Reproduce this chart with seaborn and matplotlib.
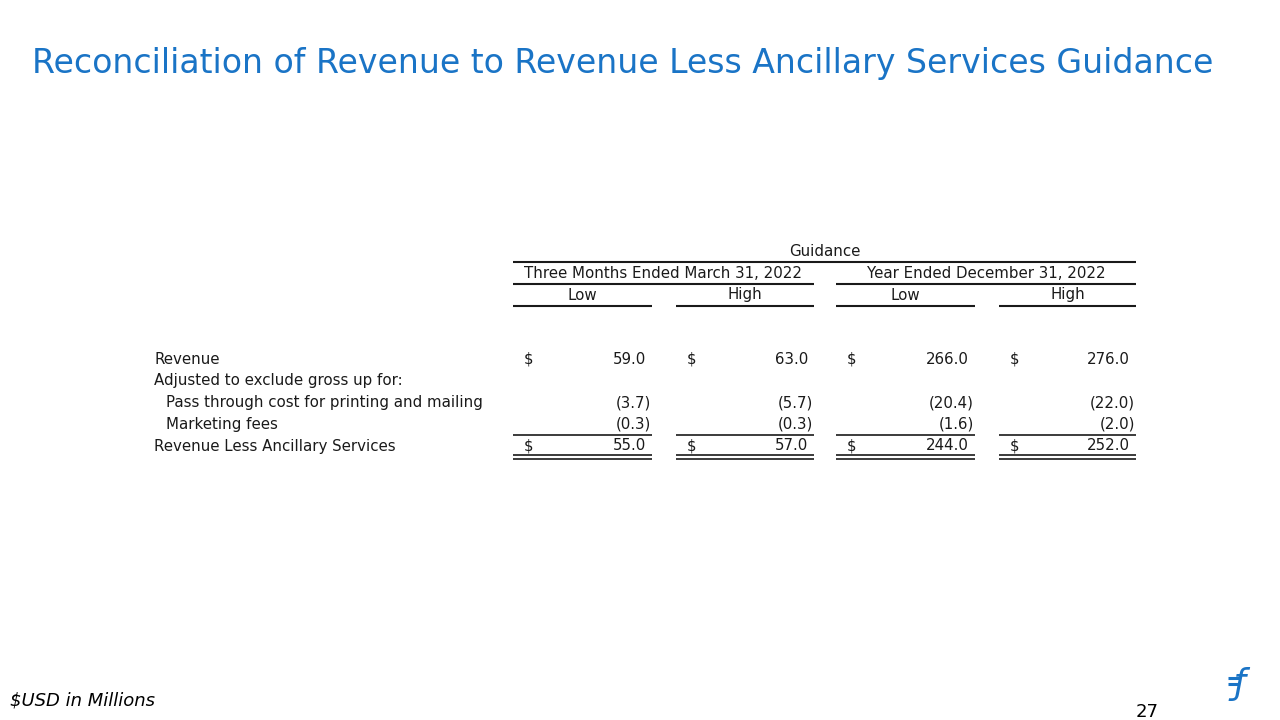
import seaborn as sns
import matplotlib.pyplot as plt

sns.set_theme(style='white')
plt.rcParams['font.family'] = ['DejaVu Sans']

# table data
row_labels = ['Revenue', 'Adjusted to exclude gross up for:',
              'Pass through cost for printing and mailing', 'Marketing fees',
              'Revenue Less Ancillary Services']
indented = [False, False, True, True, False]
periods = ['Three Months Ended March 31, 2022', 'Year Ended December 31, 2022']
bounds = ['Low', 'High', 'Low', 'High']
revenue = [59.0, 63.0, 266.0, 276.0]
pass_through = [-3.7, -5.7, -20.4, -22.0]
marketing = [-0.3, -0.3, -1.6, -2.0]
rev_less = [55.0, 57.0, 244.0, 252.0]
row_values = [revenue, None, pass_through, marketing, rev_less]
dollar_rows = [True, False, False, False, True]

blue = '#1a74c6'
txt = '#1a1a1a'


def fmt(v):
    return f'({abs(v):.1f})' if v < 0 else f'{v:.1f}'


fig = plt.figure(figsize=(12.8, 7.2), dpi=100)
ax = fig.add_axes([0, 0, 1, 1])
ax.set_xlim(0, 1280)
ax.set_ylim(720, 0)
ax.axis('off')

ax.text(32, 63, 'Reconciliation of Revenue to Revenue Less Ancillary Services Guidance',
        color=blue, fontsize=23.9, va='center', ha='left')

# column layout
col_left = [513, 676, 836, 999]
col_right = [652, 814, 975, 1136]
fs = 10.8

# header
ax.text((col_left[0] + col_right[-1]) / 2, 252, 'Guidance', ha='center', va='center',
        fontsize=fs, color=txt)
ax.hlines(262, col_left[0], col_right[-1], color=txt, lw=1.5)
for i, p in enumerate(periods):
    l, r = col_left[2 * i], col_right[2 * i + 1]
    ax.text((l + r) / 2, 273, p, ha='center', va='center', fontsize=fs, color=txt)
    ax.hlines(284, l, r, color=txt, lw=1.5)
for j, b in enumerate(bounds):
    ax.text((col_left[j] + col_right[j]) / 2, 295, b, ha='center', va='center',
            fontsize=fs, color=txt)
    ax.hlines(306, col_left[j], col_right[j], color=txt, lw=1.5)

# body
row_y = [359, 381, 403, 424, 446]
for k, lab in enumerate(row_labels):
    y = row_y[k]
    ax.text(166 if indented[k] else 154, y, lab, ha='left', va='center',
            fontsize=fs, color=txt)
    vals = row_values[k]
    if vals is None:
        continue
    for j, v in enumerate(vals):
        if dollar_rows[k]:
            ax.text(col_left[j] + 11, y, '$', ha='left', va='center', fontsize=fs, color=txt)
        xr = col_right[j] - 6 if v >= 0 else col_right[j] - 1
        ax.text(xr, y, fmt(v), ha='right', va='center', fontsize=fs, color=txt)

# total rules
for j in range(4):
    ax.hlines(434.5, col_left[j], col_right[j], color=txt, lw=1.2)
    ax.hlines(455, col_left[j], col_right[j], color=txt, lw=1.2)
    ax.hlines(458.5, col_left[j], col_right[j], color=txt, lw=1.2)

# footer
ax.text(10, 701, '$USD in Millions', style='italic', fontsize=13, color='black',
        ha='left', va='center')
ax.text(1147, 712, '27', fontsize=13, color='black', ha='center', va='center')
ax.text(1240, 684, 'ƒ', fontsize=25, color=blue, ha='center', va='center',
        style='italic')
ax.hlines([677.5, 683.5], 1228, 1239, color=blue, lw=2.2)

fig.savefig('out.png', dpi=100)
